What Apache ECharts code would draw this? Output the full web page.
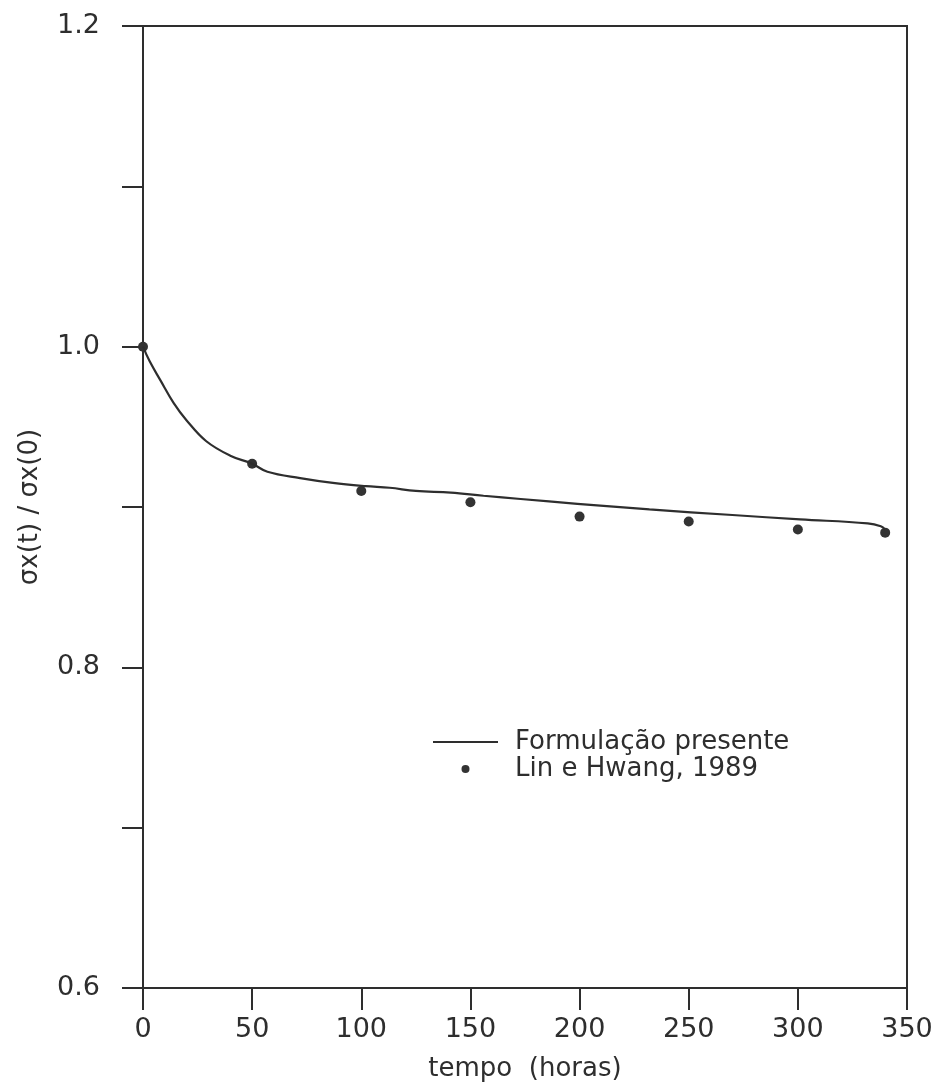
<!DOCTYPE html>
<html><head><meta charset="utf-8">
<script src="https://cdn.jsdelivr.net/npm/echarts@6/dist/echarts.min.js"></script>
<style>html,body{margin:0;padding:0;background:#fff}#c{width:939px;height:1087px}</style>
</head><body><div id="c"></div>
<script>
const lineT = [0, 3, 8, 14, 20, 29, 40, 50, 57, 72, 87, 102, 113, 125, 141, 156, 173, 199, 232, 270, 301, 332, 338, 340];
const lineV = [1.0, 0.991, 0.979, 0.965, 0.954, 0.941, 0.932, 0.927, 0.922, 0.918, 0.915, 0.913, 0.912, 0.910, 0.909, 0.907, 0.905, 0.902, 0.8985, 0.895, 0.8923, 0.8898, 0.888, 0.886];
const ptsT = [0, 50, 100, 150, 200, 250, 300, 340];
const ptsV = [1.0, 0.927, 0.910, 0.903, 0.894, 0.891, 0.886, 0.884];
const lineName = 'Formulação presente';
const ptsName = 'Lin e Hwang, 1989';
const xTitle = 'tempo  (horas)';
const yTitle = 'σx(t) / σx(0)';

const ink = '#2e2e2e';
const font = 'DejaVu Sans';
const chart = echarts.init(document.getElementById('c'));
chart.setOption({
  animation: false,
  backgroundColor: '#fff',
  grid: {left: 143, right: 32, top: 26, bottom: 99, show: true, borderColor: ink, borderWidth: 2, backgroundColor: 'transparent', containLabel: false},
  legend: {
    left: 427, top: 724, orient: 'vertical', itemWidth: 65, itemHeight: 8, itemGap: 1,
    textStyle: {fontFamily: font, fontSize: 26, color: ink, lineHeight: 20, padding: [0, 0, 0, 12]},
    data: [
      {name: lineName, itemStyle: {color: 'transparent', borderWidth: 0, opacity: 0}},
      {name: ptsName}
    ]
  },
  xAxis: {
    type: 'value', min: 0, max: 350, interval: 50,
    name: xTitle, nameLocation: 'middle', nameGap: 68,
    nameTextStyle: {fontFamily: font, fontSize: 26, color: ink},
    axisLine: {show: true, lineStyle: {color: ink, width: 2}},
    axisTick: {show: true, inside: false, length: 22, lineStyle: {color: ink, width: 2}},
    axisLabel: {fontFamily: font, fontSize: 27, color: ink, margin: 28},
    splitLine: {show: false}
  },
  yAxis: {
    type: 'value', min: 0.6, max: 1.2, interval: 0.1,
    name: yTitle, nameLocation: 'middle', nameGap: 100, nameRotate: 90,
    nameTextStyle: {fontFamily: font, fontSize: 26, color: ink},
    axisLine: {show: true, lineStyle: {color: ink, width: 2}},
    axisTick: {show: true, inside: false, length: 21, lineStyle: {color: ink, width: 2}},
    axisLabel: {fontFamily: font, fontSize: 27, color: ink, margin: 43,
      formatter: v => { const r = Math.round(v * 10); return r % 2 === 0 ? (r / 10).toFixed(1) : ''; }},
    splitLine: {show: false}
  },
  series: [
    {name: lineName, type: 'line', smooth: 0.4, symbol: 'none',
     lineStyle: {color: ink, width: 2.2}, itemStyle: {color: ink},
     data: lineT.map((t, i) => [t, lineV[i]])},
    {name: ptsName, type: 'scatter', symbol: 'circle', symbolSize: 10,
     itemStyle: {color: '#333', opacity: 1},
     data: ptsT.map((t, i) => [t, ptsV[i]])}
  ]
});
</script></body></html>
